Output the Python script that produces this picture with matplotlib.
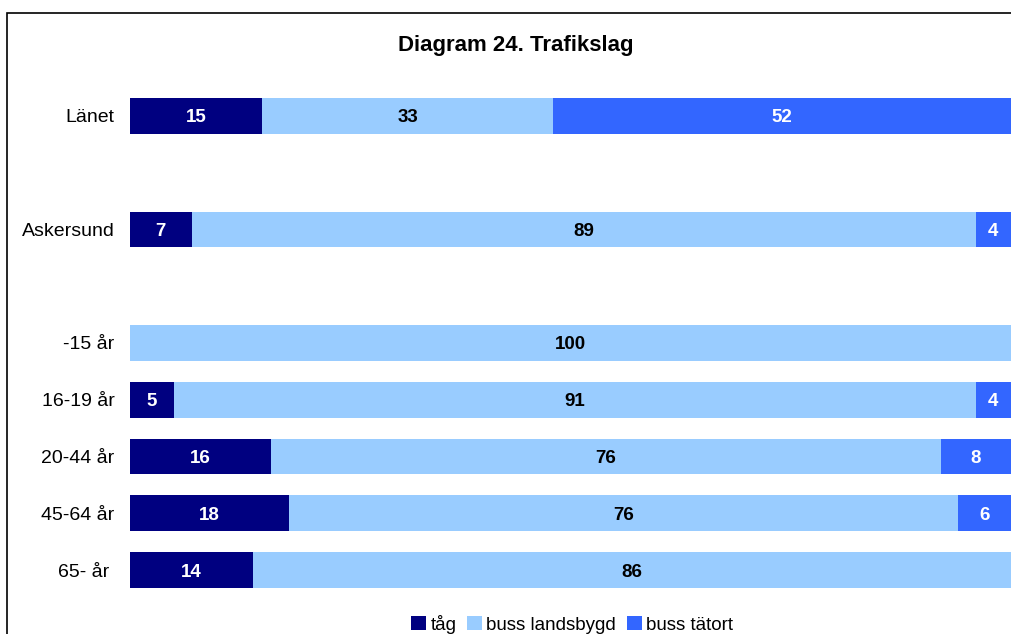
import matplotlib.pyplot as plt
from matplotlib.patches import Rectangle

plt.rcParams['font.family'] = ['Liberation Sans', 'DejaVu Sans']

# Data (percent), one entry per category; '' = empty slot
categories = ['Länet', '', 'Askersund', '', '-15 år', '16-19 år', '20-44 år', '45-64 år', '65- år ']
tag = [15, 0, 7, 0, 0, 5, 16, 18, 14]
buss_landsbygd = [33, 0, 89, 0, 100, 91, 76, 76, 86]
buss_tatort = [52, 0, 4, 0, 0, 4, 8, 6, 0]

series = [('tåg', tag, '#000080', 'white'),
          ('buss landsbygd', buss_landsbygd, '#99CCFF', 'black'),
          ('buss tätort', buss_tatort, '#3366FF', 'white')]

fig = plt.figure(figsize=(10.11, 6.34), dpi=100)
ax = fig.add_axes([130 / 1011, 1 - 598.4 / 634, 881 / 1011, 510.8 / 634])

# outer chart frame (cropped at right and bottom)
fig.patches.append(Rectangle((7 / 1011, -0.1), 1.2, 1 - 13 / 634 + 0.1,
                             transform=fig.transFigure, fill=False,
                             edgecolor='black', linewidth=1.2))

y = list(range(len(categories)))
left = [0] * len(categories)
for name, vals, color, tcolor in series:
    bars = ax.barh(y, vals, left=left, height=0.63, color=color, label=name)
    for b, v, l in zip(bars, vals, left):
        if v > 0:
            ax.text(l + v / 2, b.get_y() + b.get_height() / 2, str(v),
                    ha='center', va='center_baseline', color=tcolor,
                    fontsize=13.5, fontweight='bold')
    left = [a + b for a, b in zip(left, vals)]

ax.set_xlim(0, 100)
ax.set_ylim(len(categories) - 0.5, -0.5)
ax.set_yticks(y)
ax.set_yticklabels(categories, fontsize=14)
ax.tick_params(axis='y', length=0, pad=11)
ax.set_xticks([])
for s in ax.spines.values():
    s.set_visible(False)

fig.text(516 / 1011, 1 - 46 / 634, 'Diagram 24. Trafikslag', ha='center', va='center',
         fontsize=16, fontweight='bold')

fig.legend(loc='center', bbox_to_anchor=(572 / 1011, 1 - 624 / 634), ncol=3,
           frameon=False, fontsize=13.5, handlelength=0.8, handleheight=0.8,
           handletextpad=0.25, columnspacing=0.55, borderpad=0)

fig.savefig('out.png', dpi=100)
